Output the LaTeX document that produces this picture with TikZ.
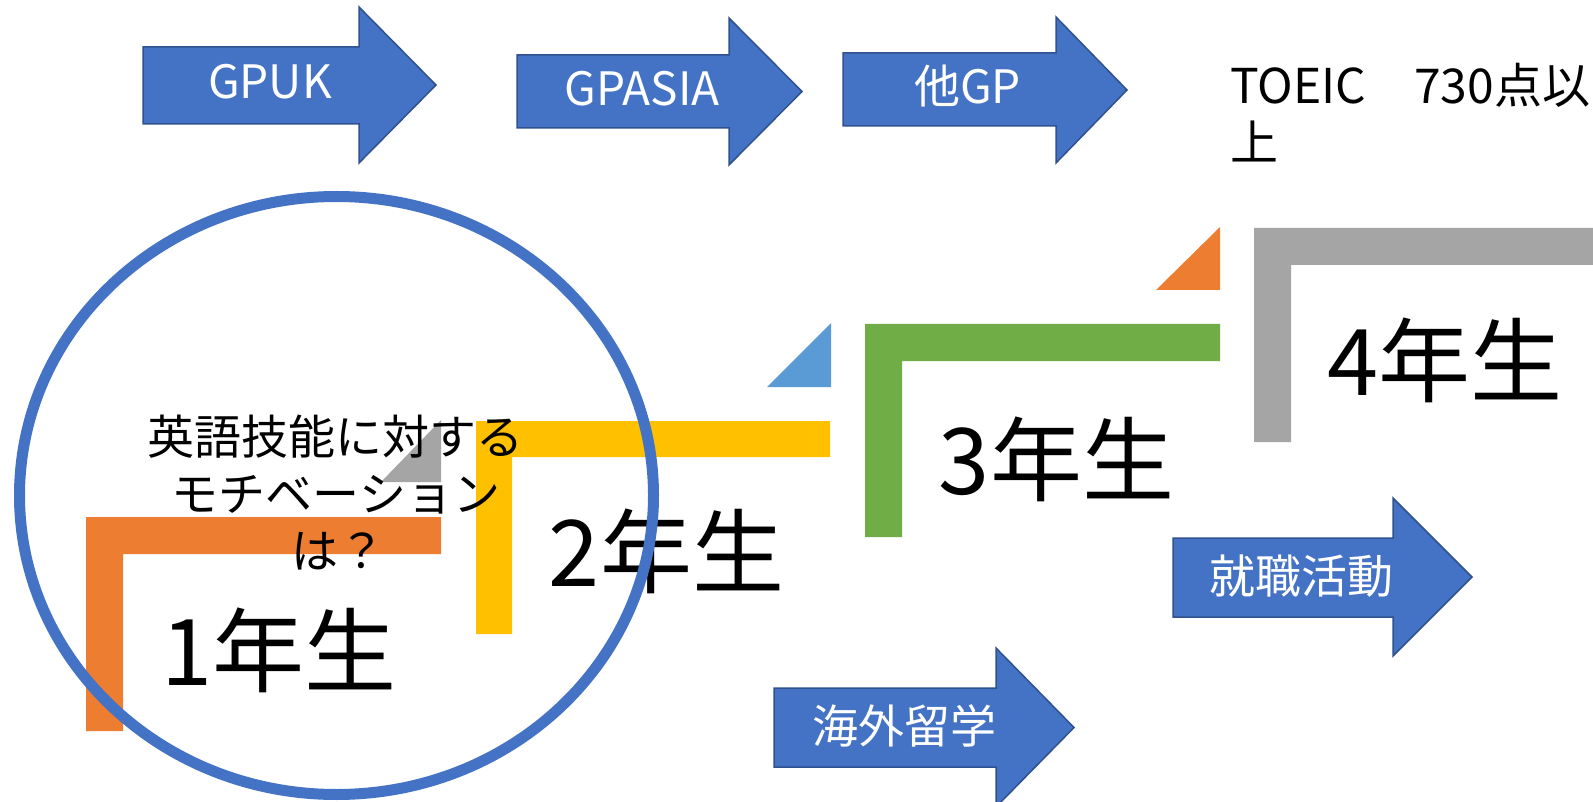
\documentclass[tikz,border=0pt]{standalone}
\usepackage{fontspec}
\newfontfamily\jp{Noto Sans CJK JP}
\definecolor{arrowblue}{HTML}{4472C4}
\definecolor{arrowedge}{HTML}{2F528F}
\definecolor{lorange}{HTML}{ED7D31}
\definecolor{lyellow}{HTML}{FFC000}
\definecolor{lgreen}{HTML}{70AD47}
\definecolor{lgray}{HTML}{A5A5A5}
\definecolor{lblue}{HTML}{5B9BD5}
% left, body top, body bottom, head base x, head top, head bottom, tip x
\newcommand{\blockarrowpath}[7]{%
  \path[blockarrow] (#1,#2) -- (#4,#2) -- (#4,#5) -- (#7,{(#5+#6)/2}) -- (#4,#6) -- (#4,#3) -- (#1,#3) -- cycle;}
% L-shaped bar: outer left, top, right, bottom, thickness, colour
\newcommand{\lbar}[6]{%
  \fill[#6] (#1,#2) -- (#3,#2) -- (#3,{#2+#5}) -- ({#1+#5},{#2+#5}) -- ({#1+#5},#4) -- (#1,#4) -- cycle;}
\begin{document}
\begin{tikzpicture}[x=1pt,y=-1pt,
  blockarrow/.style={fill=arrowblue, draw=arrowedge, line width=1.5pt, line join=miter},
  arrowtext/.style={text=white, font=\jp\fontsize{46}{55}\selectfont, inner sep=0pt, anchor=base},
  yeartext/.style={font=\jp\fontsize{92}{110}\selectfont, inner sep=0pt, anchor=base},
  qtext/.style={font=\jp\fontsize{47}{57}\selectfont, inner sep=0pt, anchor=base},
  toeictext/.style={font=\jp\fontsize{48}{58}\selectfont, inner sep=0pt, anchor=base west},
  ring/.style={draw=arrowblue, line width=11pt}]
\useasboundingbox (0,0) rectangle (1593,802);
\begin{scope}
\clip (0,0) rectangle (1593,802);
\fill[white] (0,0) rectangle (1593,802);
% block arrows
\blockarrowpath{143}{47}{124}{359}{7}{163}{436}
\blockarrowpath{517}{55}{128}{729}{18}{165}{802}
\blockarrowpath{843}{53}{126}{1056}{17}{163}{1127}
\blockarrowpath{1173}{538}{617}{1393}{498}{656}{1472}
\blockarrowpath{774}{688}{767}{996}{648}{807}{1074}
\node[arrowtext] (gpuk) at (270,99) {GPUK};
\node[arrowtext] (gpasia) at (642,106) {GPASIA};
\node[arrowtext] (othergp) at (967.5,104) {他GP};
\node[arrowtext] (job) at (1301.5,593) {就職活動};
\node[arrowtext] (abroad) at (904,743) {海外留学};
% small triangles
\fill[lgray] (381,482) -- (441,482) -- (441,420) -- cycle;
\fill[lblue] (767,387) -- (831,387) -- (831,323) -- cycle;
\fill[lorange] (1156,290) -- (1220,290) -- (1220,227) -- cycle;
% L bars
\lbar{86}{517}{441}{731}{37}{lorange}
\lbar{476}{421}{830}{634}{36}{lyellow}
\lbar{865}{324}{1220}{537}{37}{lgreen}
\lbar{1254}{228}{1600}{442}{37}{lgray}
% year labels
\node[yeartext] (y1) at (279,685) {1年生};
\node[yeartext] (y2) at (666.5,586) {2年生};
\node[yeartext] (y3) at (1056.5,494) {3年生};
\node[yeartext] (y4) at (1445,395) {4年生};
% question
\node[qtext] (q1) at (335,454) {英語技能に対する};
\node[qtext] (q2) at (336,511) {モチベーション};
\node[qtext] (q3) at (338,568) {は？};
% TOEIC
\node[toeictext] (toeic1) at (1230,104) {TOEIC　730点以};
\node[toeictext] (toeic2) at (1230,161) {上};
% ring
\draw[ring] (336.5,495.5) ellipse [x radius=317, y radius=299];
\end{scope}
\end{tikzpicture}
\end{document}
